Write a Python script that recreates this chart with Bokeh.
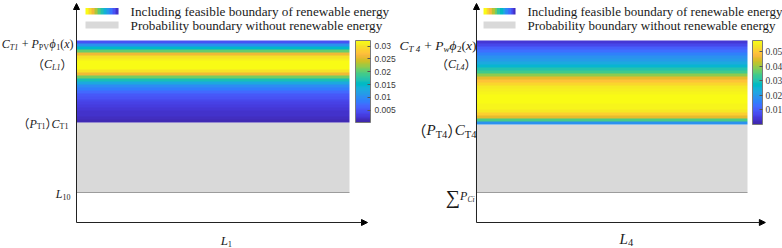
import numpy as np
from bokeh.plotting import figure
from bokeh.models import (Range1d, Label, Arrow, NormalHead, ColorBar,
                          LinearColorMapper, FixedTicker)
from bokeh.layouts import row
from bokeh.embed import file_html
from bokeh.resources import INLINE

# ---------------- data ----------------
# density profile of the feasible band, listed from the top edge to the bottom edge
left_profile = [0.005, 0.0105, 0.015, 0.0205, 0.026, 0.030, 0.031, 0.0318, 0.032, 0.0318,
                0.030, 0.026, 0.021, 0.0165, 0.013, 0.010, 0.0082, 0.0068, 0.0056, 0.0047,
                0.0040, 0.0034, 0.0029, 0.0025, 0.0021, 0.0018, 0.0015, 0.0012]
right_profile = [0.004, 0.007, 0.010, 0.013, 0.016, 0.018, 0.020, 0.023, 0.026, 0.030,
                 0.034, 0.039, 0.045, 0.049, 0.052, 0.054, 0.0555, 0.0565, 0.057, 0.057,
                 0.057, 0.0565, 0.056, 0.0545, 0.051, 0.045, 0.035, 0.018]
left_range = (0.0002, 0.0322)
right_range = (0.0, 0.0575)
left_cbar_ticks = [0.005, 0.01, 0.015, 0.02, 0.025, 0.03]
left_cbar_labels = ["0.005", "0.01", "0.015", "0.02", "0.025", "0.03"]
right_cbar_ticks = [0.01, 0.02, 0.03, 0.04, 0.05]
right_cbar_labels = ["0.01", "0.02", "0.03", "0.04", "0.05"]
# y levels: base of grey band, top of grey band, peak label, top of coloured band
left_levels = {"base": 0.30, "lower": 1.00, "peak": 1.62, "upper": 1.82}
right_levels = {"base": 0.30, "lower": 0.98, "peak": 1.62, "upper": 1.82}
L_span = (0.0, 1.0)
legend_labels = ["Including feasible boundary of renewable energy",
                 "Probability boundary without renewable energy"]
left_legend_grad = [0.032, 0.029, 0.026, 0.023, 0.020, 0.017, 0.014, 0.011, 0.008, 0.005, 0.002]
right_legend_grad = [0.057, 0.052, 0.047, 0.042, 0.037, 0.032, 0.027, 0.022, 0.017, 0.012, 0.007, 0.002]

# ---------------- palette (parula) ----------------
_parula = [
    (0.2422, 0.1504, 0.6603), (0.2504, 0.1650, 0.7076), (0.2578, 0.1818, 0.7511), (0.2647, 0.1978, 0.7952),
    (0.2706, 0.2147, 0.8364), (0.2751, 0.2342, 0.8710), (0.2783, 0.2559, 0.8991), (0.2803, 0.2782, 0.9221),
    (0.2813, 0.3006, 0.9414), (0.2810, 0.3228, 0.9579), (0.2795, 0.3447, 0.9717), (0.2760, 0.3667, 0.9829),
    (0.2699, 0.3892, 0.9906), (0.2602, 0.4123, 0.9952), (0.2440, 0.4358, 0.9988), (0.2206, 0.4603, 0.9973),
    (0.1963, 0.4847, 0.9892), (0.1834, 0.5074, 0.9798), (0.1786, 0.5289, 0.9682), (0.1764, 0.5499, 0.9520),
    (0.1687, 0.5703, 0.9359), (0.1540, 0.5902, 0.9218), (0.1460, 0.6091, 0.9079), (0.1380, 0.6276, 0.8973),
    (0.1248, 0.6459, 0.8883), (0.1113, 0.6635, 0.8763), (0.0952, 0.6798, 0.8598), (0.0689, 0.6948, 0.8394),
    (0.0297, 0.7082, 0.8163), (0.0036, 0.7203, 0.7917), (0.0067, 0.7312, 0.7660), (0.0433, 0.7411, 0.7394),
    (0.0964, 0.7500, 0.7120), (0.1408, 0.7584, 0.6842), (0.1717, 0.7670, 0.6554), (0.1938, 0.7758, 0.6251),
    (0.2161, 0.7843, 0.5923), (0.2470, 0.7918, 0.5567), (0.2906, 0.7973, 0.5188), (0.3406, 0.8008, 0.4789),
    (0.3909, 0.8029, 0.4354), (0.4456, 0.8024, 0.3909), (0.5044, 0.7993, 0.3480), (0.5616, 0.7942, 0.3045),
    (0.6174, 0.7876, 0.2612), (0.6720, 0.7793, 0.2227), (0.7242, 0.7698, 0.1910), (0.7738, 0.7598, 0.1646),
    (0.8203, 0.7498, 0.1535), (0.8634, 0.7406, 0.1596), (0.9035, 0.7330, 0.1774), (0.9393, 0.7288, 0.2100),
    (0.9728, 0.7298, 0.2394), (0.9956, 0.7434, 0.2371), (0.9970, 0.7659, 0.2199), (0.9952, 0.7893, 0.2028),
    (0.9892, 0.8136, 0.1885), (0.9786, 0.8386, 0.1766), (0.9676, 0.8639, 0.1643), (0.9610, 0.8890, 0.1537),
    (0.9597, 0.9135, 0.1423), (0.9628, 0.9373, 0.1265), (0.9691, 0.9606, 0.1064), (0.9769, 0.9839, 0.0805)]
PARULA = ["#%02x%02x%02x" % tuple(int(round(c * 255)) for c in rgb) for rgb in _parula]

# ---------------- text helpers ----------------
EM = {' ': 0.25, '+': 0.564, '(': 0.333, ')': 0.333, '0': 0.5, '1': 0.5, '2': 0.5, '4': 0.5,
      'C': 0.667, 'P': 0.611, 'L': 0.556, 'T': 0.611, 'V': 0.722, 'w': 0.667, 'x': 0.444,
      'i': 0.278, 'ϕ': 0.56, '（': 1.0, '）': 0.5, '∑': 0.72}
SERIF = "Liberation Serif"
CJK = "Noto Sans CJK SC"
FH = 248


def em_width(text, size):
    return sum(EM.get(ch, 0.5) for ch in text) * size


def math_label(p, x, y, segs, main, align="right", pad=3, nudge=0.0, color="#1a1a1a"):
    """segs: list of (text, size, style, font, dy) ; dy relative to main baseline (px, up +)"""
    widths = [em_width(t, s) for (t, s, st, f, d) in segs]
    total = sum(widths)
    start = -total - pad if align == "right" else -total / 2.0
    base = nudge - 0.33 * main
    cur = start
    for (t, s, st, f, d), w in zip(segs, widths):
        lead = em_width(t[:len(t) - len(t.lstrip())], s)
        shown = t.strip()
        if shown:
            p.add_layout(Label(x=x, y=y, x_offset=cur + lead, y_offset=base + d, text=shown,
                               text_font=f, text_font_size=f"{s}px", text_font_style=st,
                               text_color=color, text_align="left", text_baseline="alphabetic"))
        cur += w


def M(t, s, st="italic", f=SERIF):
    return (t, s, st, f, 0.0)


def S(t, s, main, st="italic", f=SERIF):
    return (t, s, st, f, -0.25 * main)


def P(t, s):
    return (t, s, "normal", CJK, 0.0)


def panel(width, xr, profile, crange, levels, cb_ticks, cb_labels, cb_loc, cb_w, cb_h,
          cb_font, cb_size, cb_standoff, legend_grad, legend_x, legend_size):
    p = figure(width=width, height=FH, x_range=Range1d(*xr), y_range=Range1d(-0.26, 2.22),
               output_backend="svg", toolbar_location=None, min_border=0,
               x_axis_location=None, y_axis_location=None, outline_line_color=None)
    p.grid.visible = False
    mapper = LinearColorMapper(palette=PARULA, low=crange[0], high=crange[1])

    # grey probability band
    p.quad(left=L_span[0], right=L_span[1], bottom=levels["base"], top=levels["lower"],
           fill_color="#d9d9d9", line_color=None)
    p.line(x=list(L_span), y=[levels["base"], levels["base"]], line_color="#9c9c9c", line_width=1.2)

    # coloured feasible band
    img = np.array(profile[::-1], dtype=float).reshape(-1, 1)
    p.image(image=[img], x=L_span[0], y=levels["lower"], dw=L_span[1] - L_span[0],
            dh=levels["upper"] - levels["lower"], color_mapper=mapper)

    # axes with arrows
    p.add_layout(Arrow(end=NormalHead(size=6, fill_color="black", line_color="black"),
                       x_start=0, y_start=0, x_end=0, y_end=2.19, line_color="#222", line_width=1))
    p.add_layout(Arrow(end=NormalHead(size=6, fill_color="black", line_color="black"),
                       x_start=0, y_start=0, x_end=1.066, y_end=0, line_color="#222", line_width=1))

    # colour bar
    cb = ColorBar(color_mapper=mapper, ticker=FixedTicker(ticks=cb_ticks),
                  major_label_overrides={t: l for t, l in zip(cb_ticks, cb_labels)},
                  width=cb_w, height=cb_h, location=cb_loc, padding=0, margin=0,
                  border_line_color=None, background_fill_color=None,
                  bar_line_color="#7a7a7a", major_tick_line_color="#555",
                  major_tick_in=3, major_tick_out=0, minor_tick_line_color=None,
                  label_standoff=cb_standoff, major_label_text_font=cb_font,
                  major_label_text_font_size=cb_size, major_label_text_color="#3a3a3a")
    p.add_layout(cb, "center")

    # legend
    x0, x1, xt = legend_x
    grad = np.array([legend_grad], dtype=float)
    p.image(image=[grad], x=x0, y=2.08, dw=x1 - x0, dh=0.065, color_mapper=mapper)
    p.quad(left=x0, right=x1, bottom=1.94, top=2.01, fill_color="#d9d9d9", line_color=None)
    for lab, yy in zip(legend_labels, [2.11, 1.97]):
        p.add_layout(Label(x=xt, y=yy, text=lab, text_font=SERIF, text_font_size=legend_size,
                           text_color="#1a1a1a", text_baseline="middle", text_align="left"))
    return p


# ---------------- left panel ----------------
p1 = panel(398, (-0.2784, 1.1795), left_profile, left_range, left_levels,
           left_cbar_ticks, left_cbar_labels, (355, 126), 15, 82,
           "Liberation Sans", "8.5px", 4, left_legend_grad, (0.033, 0.154, 0.198), "13.2px")
m = 12
sub = 8
math_label(p1, 0, left_levels["upper"],
           [M("C", m), S("T1", sub, m), M(" + ", m, "normal"), M("P", m), S("PV", sub, m, "normal"),
            M("ϕ", m), S("1", sub, m, "normal"), M("(", m, "normal"), M("x", m), M(")", m, "normal")],
           m, pad=3)
math_label(p1, 0, left_levels["peak"], [P("（", m), M("C", m), S("L1", sub, m), P("）", m)], m, pad=10)
math_label(p1, 0, left_levels["lower"],
           [P("（", m), M("P", m), S("T1", sub, m, "normal"), P("）", m), M("C", m), S("T1", sub, m, "normal")],
           m, pad=8, nudge=2.5)
math_label(p1, 0, left_levels["base"], [M("L", m), S("10", sub, m, "normal")], m, pad=6, nudge=2)
math_label(p1, 0.549, -0.135, [M("L", 13), S("1", 8.5, 13, "normal")], 13, align="center")

# ---------------- right panel ----------------
p2 = panel(384, (-0.2878, 1.1292), right_profile, right_range, right_levels,
           right_cbar_ticks, right_cbar_labels, (354, 124), 10, 84,
           SERIF, "9.5px", 3, right_legend_grad, (0.026, 0.144, 0.188), "13px")
m2 = 13.5
sub2 = 9
math_label(p2, 0, right_levels["upper"],
           [M("C", m2), S("T 4", sub2, m2), M(" + ", m2, "normal"), M("P", m2), S("w", sub2, m2),
            M("ϕ", m2), S("2", sub2, m2, "normal"), M("(", m2, "normal"), M("x", m2), M(")", m2, "normal")],
           m2, pad=0, nudge=-1)
math_label(p2, 0, right_levels["peak"], [P("（", 12), M("C", 12), S("L4", 8, 12), P("）", 12)], 12, pad=6)
m3 = 15
math_label(p2, 0, right_levels["lower"],
           [P("（", m3), M("P", m3), S("T4", 10.5, m3, "normal"), P("）", m3), M("C", m3), S("T4", 10.5, m3, "normal")],
           m3, pad=0, nudge=-1)
math_label(p2, 0, right_levels["base"],
           [("∑", 20, "normal", SERIF, -1.0), M("P", 12), S("Ci", 7.5, 12)], 12, pad=2, nudge=0)
math_label(p2, 0.553, -0.115, [M("L", 15), S("4", 10.5, 15, "normal")], 15, align="center")

layout = row(p1, p2)
open("out.html", "w").write(file_html(layout, INLINE))
